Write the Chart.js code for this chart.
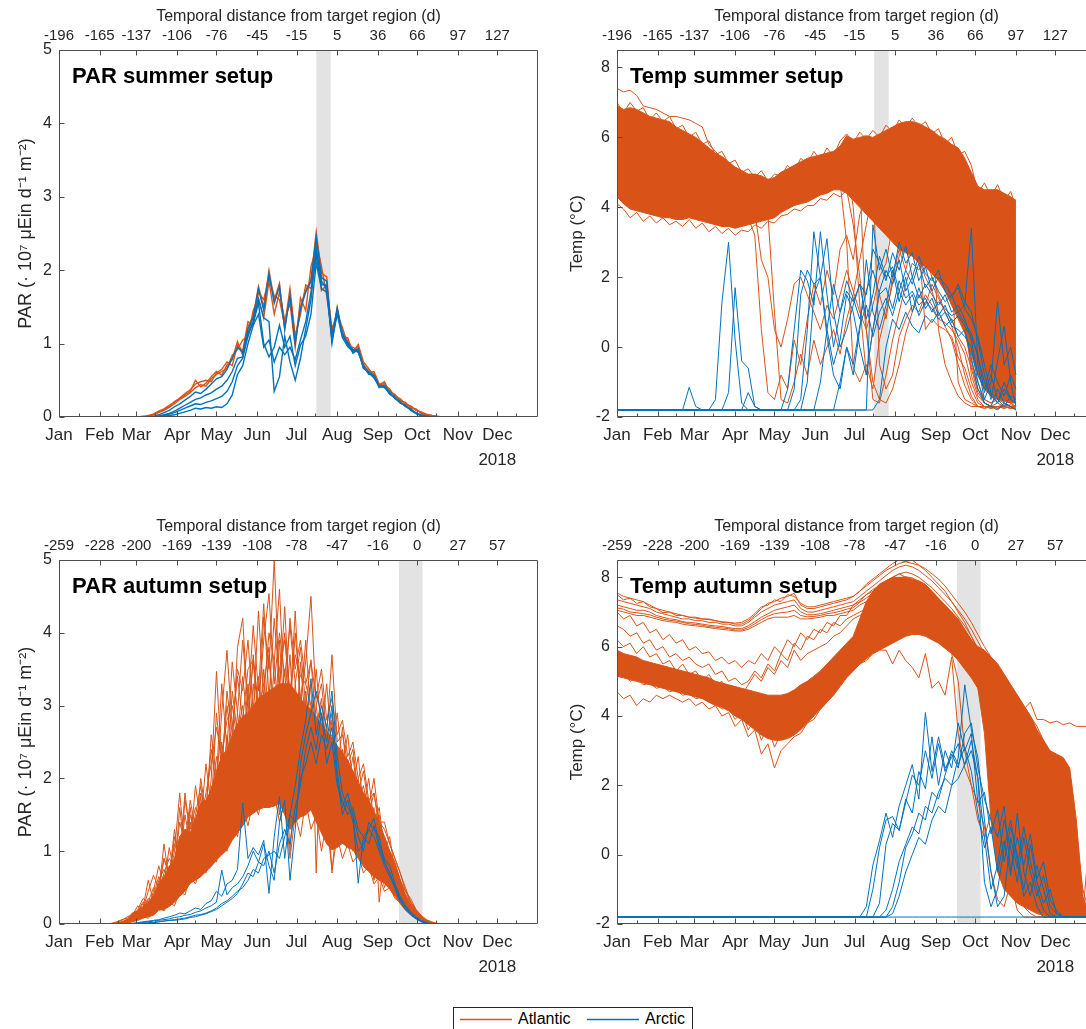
<!DOCTYPE html>
<html>
<head>
<meta charset="utf-8">
<title>PAR and Temp, summer and autumn setups</title>
<script src="https://cdn.jsdelivr.net/npm/chart.js@4.4.1/dist/chart.umd.min.js"></script>
<style>
  html, body { margin:0; padding:0; background:#fff; }
  body { position:relative; width:1086px; height:1029px; overflow:hidden; }
  .panel { position:absolute; }
  .panel canvas { display:block; }
  #legend { position:absolute; left:453px; top:1007px; width:240px; height:27px; box-sizing:border-box;
            border:1px solid #262626; background:#fff; font-family:"Liberation Sans", Arial, Helvetica, sans-serif;
            font-size:16px; color:#000; }
  #legend canvas { position:absolute; top:9px; }
  #legend .tx { position:absolute; top:1px; line-height:20px; white-space:nowrap; }
</style>
</head>
<body>
<div class="panel" style="left:0;top:0"><canvas id="parSummer" width="548" height="480"></canvas></div>
<div class="panel" style="left:560px;top:0"><canvas id="tempSummer" width="548" height="480"></canvas></div>
<div class="panel" style="left:0;top:510px"><canvas id="parAutumn" width="548" height="474"></canvas></div>
<div class="panel" style="left:560px;top:510px"><canvas id="tempAutumn" width="548" height="474"></canvas></div>
<div id="legend"></div>
<script>
// ---------------- categories / tick labels ----------------
const monthNames = ['Jan','Feb','Mar','Apr','May','Jun','Jul','Aug','Sep','Oct','Nov','Dec'];
const yearLabel = '2018';
const monthStarts = [0,31,59,90,120,151,181,212,243,273,304,334];
const monthMids = [15,45,73,104,134,165,195,226,257,287,318,348];
const summerDistLabels = ['-196','-165','-137','-106','-76','-45','-15','5','36','66','97','127'];
const autumnDistLabels = ['-259','-228','-200','-169','-139','-108','-78','-47','-16','0','27','57'];
const summerBand = [196, 207];
const autumnBand = [259, 277];
const parTicks = [0,1,2,3,4,5];
const tempTicks = [-2,0,2,4,6,8];
const panelTitles = ['PAR summer setup','Temp summer setup','PAR autumn setup','Temp autumn setup'];
const topAxisTitle = 'Temporal distance from target region (d)';
const parAxisTitle = 'PAR (· 10⁷ μEin d⁻¹ m⁻²)';
const tempAxisTitle = 'Temp (°C)';
const seriesNames = ['Atlantic','Arctic'];

// ---------------- PAR summer setup (day of year) ----------------
const parSummerDays = [0,56,60,64,68,72,76,80,84,88,92,96,100,104,108,112,116,120,124,128,132,136,140,144,148,152,156,160,164,168,172,176,180,184,188,192,196,200,204,208,212,216,220,224,228,232,236,240,244,248,252,256,260,264,268,272,276,280,284,288,292,296,300,304];
const psAtl1 = [0, 0,0,0.01,0.01,0.04,0.07,0.10,0.14,0.21,0.25, 0.30,0.35,0.50,0.41,0.46,0.55,0.62,0.57,0.71,0.78, 1.03,0.84,1.23,1.37,1.78,1.50,2.00,1.59,1.82,1.19, 1.68,1.05,1.50,1.73,1.87,2.52,1.96,1.91,1.05,1.50, 1.14,1.05,0.91,0.96,0.69,0.64,0.59,0.41,0.46,0.35, 0.30,0.23,0.19,0.14,0.10,0.06,0.03,0.01,0,0, 0,0, 0];
const psAtl2 = [0, 0,0,0,0.01,0.03,0.06,0.09,0.13,0.18,0.24, 0.28,0.33,0.40,0.44,0.42,0.52,0.58,0.62,0.66,0.84, 0.92,1.05,1.10,1.45,1.62,1.35,1.85,1.40,1.70,1.32, 1.55,0.95,1.62,1.45,2.05,2.30,1.72,1.80,1.20,1.40, 1.22,0.98,0.95,0.90,0.72,0.60,0.62,0.45,0.43,0.38, 0.28,0.25,0.17,0.15,0.09,0.07,0.04,0.02,0.01,0, 0,0, 0];
const psAtl3 = [0, 0,0,0,0.02,0.04,0.08,0.11,0.16,0.20,0.26, 0.32,0.37,0.45,0.48,0.50,0.48,0.60,0.65,0.75,0.70, 0.98,0.90,1.30,1.25,1.70,1.60,1.90,1.65,1.60,1.25, 1.75,1.10,1.40,1.80,1.75,2.40,2.05,1.65,1.15,1.45, 1.10,1.08,0.88,0.99,0.75,0.66,0.55,0.44,0.48,0.33, 0.31,0.22,0.20,0.12,0.11,0.05,0.03,0.02,0,0, 0,0, 0];
const psArc1 = [0, 0,0,0,0,0.01,0.03,0.06,0.09,0.14,0.18, 0.23,0.28,0.34,0.32,0.38,0.45,0.52,0.55,0.65,0.80, 0.95,0.88,1.20,1.35,1.75,1.45,1.95,1.55,1.78,1.20, 1.65,1.00,1.48,1.70,1.85,2.45,1.90,1.85,1.08,1.48, 1.12,1.00,0.90,0.93,0.66,0.62,0.55,0.40,0.43,0.32, 0.27,0.20,0.15,0.10,0.06,0.03,0.01,0,0,0, 0,0, 0];
const psArc2 = [0, 0,0,0,0,0,0.01,0.03,0.05,0.08,0.12, 0.16,0.20,0.24,0.26,0.30,0.33,0.38,0.42,0.50,0.62, 0.80,0.82,1.10,1.30,1.60,1.35,1.30,0.35,0.55,1.10, 0.75,0.50,0.80,1.20,1.60,2.30,1.85,1.75,1.10,1.42, 1.15,0.98,0.92,0.88,0.70,0.58,0.57,0.42,0.40,0.34, 0.25,0.21,0.14,0.11,0.05,0.02,0.01,0,0,0, 0,0, 0];
const psArc3 = [0, 0,0,0,0,0,0,0.01,0.02,0.03,0.05, 0.07,0.09,0.12,0.11,0.13,0.12,0.14,0.13,0.18,0.30, 0.58,0.70,1.00,1.25,1.40,0.95,1.05,0.75,0.95,0.85, 0.95,0.78,1.05,1.30,1.70,2.20,1.80,1.80,1.00,1.45, 1.10,1.02,0.87,0.92,0.68,0.61,0.53,0.43,0.41,0.31, 0.26,0.19,0.16,0.09,0.05,0.02,0,0,0,0, 0,0, 0];
const psArc4 = [0, 0,0,0,0,0,0.01,0.02,0.04,0.06,0.09, 0.12,0.15,0.18,0.17,0.20,0.22,0.25,0.28,0.35,0.48, 0.70,0.80,1.15,1.28,1.55,1.00,0.82,0.95,1.25,0.95, 1.10,0.70,0.98,1.10,1.40,2.10,1.75,1.70,1.05,1.40, 1.08,0.96,0.89,0.90,0.67,0.60,0.56,0.41,0.42,0.33, 0.26,0.20,0.15,0.10,0.05,0.02,0,0,0,0, 0,0, 0];

// ---------------- Temp summer setup ----------------
const tempSummerDays = [0,5,10,15,20,25,30,35,40,45, 50,55,60,65,70,75,80,85,90,95, 100,105,110,115,120,125,130,135,140,145, 150,155,160,165,170,175,180,185,190,195, 200,205,210,215,220,225,230,235,240,245, 250,255,260,265,270,275,280,285,290,295, 300,304];
const tsAtlUpper = [6.9,6.8,6.85,6.8,6.7,6.6,6.55,6.5,6.45,6.3, 6.2,6.1,6.0,5.85,5.7,5.55,5.45,5.3,5.15,5.05, 4.95,4.95,4.9,4.8,4.85,5.0,5.1,5.2,5.3,5.4, 5.45,5.5,5.55,5.6,5.75,6.05,5.95,6.0,6.05,6.0, 6.1,6.2,6.3,6.4,6.45,6.45,6.4,6.3,6.2,6.05, 5.95,5.8,5.7,5.4,5.0,4.6,4.5,4.5,4.5,4.4, 4.3,4.2];
const tsAtlLower = [4.3,4.1,3.95,3.9,3.85,3.8,3.75,3.7,3.7,3.65, 3.65,3.7,3.65,3.6,3.55,3.5,3.45,3.45,3.4,3.45, 3.5,3.55,3.6,3.65,3.7,3.85,3.95,4.05,4.1,4.15, 4.25,4.35,4.4,4.5,4.5,4.4,4.2,4.0,3.8,3.6, 3.4,3.2,3.0,2.8,2.7,2.6,2.4,2.3,2.1,1.9, 1.6,1.2,0.8,0.4,-0.2,-0.8,-1.2,-1.4,-1.5,-1.55, -1.6,-1.6];
const tsAtl1 = [7.4,7.3,7.35,7.2,6.9,6.85,6.8,6.7,6.6,6.6, 6.55,6.5,6.4,6.3,5.8,5.6,5.4,5.25,5.1,5.0, 4.9,4.85,4.8,4.75,4.8,4.95,5.05,5.15,5.25,5.35, 5.4,5.45,5.5,5.55,5.7,6.0,5.9,5.95,6.0,5.95, 6.05,6.15,6.25,6.35,6.4,6.4,6.35,6.25,6.15,6.0, 5.9,5.75,5.6,5.3,4.9,4.5,4.4,4.4,4.5,4.3, 4.2,4.1];
const tsAtl2 = [4.6,4.5,4.4,4.3,4.2,4.15,4.1,4.05,4.0,3.95, 3.9,3.9,3.85,3.8,3.75,3.7,3.7,3.65,3.6,3.65, 3.7,3.2,0.5,-1.3,-1.5,-0.8,-1.2,0.2,-0.5,0.8, 1.8,1.2,2.2,1.5,2.8,3.2,2.5,3.8,4.2,4.6, 5.0,5.3,5.5,5.6,5.7,5.6,5.5,5.3,5.0,4.6, 4.0,3.0,1.5,0.5,-0.5,-1.2,-1.5,-1.6,-1.5,-1.6, -1.7,-1.7];
const tsAtl3 = [5.2,5.0,5.1,4.9,4.8,4.7,4.75,4.6,4.55,4.5, 4.4,4.35,4.3,4.2,4.15,4.1,4.0,3.95,3.9,3.9, 3.9,3.9,2.5,2.0,0.5,0.0,0.8,1.8,2.0,1.5, 1.0,0.5,1.2,0.8,1.5,2.2,1.6,1.0,0.5,1.2, 2.0,2.4,3.5,4.5,5.2,5.5,5.6,5.5,5.4,5.2, 5.0,4.7,4.3,1.0,-0.8,-1.4,-1.6,-1.7,-1.6,-1.7, -1.65,-1.7];
const tsAtl4 = [5.6,5.5,5.45,5.4,5.3,5.2,5.15,5.1,5.0,4.95, 4.9,4.85,4.8,4.7,4.6,4.5,4.4,4.3,4.2,4.15, 4.1,4.1,4.05,4.0,4.05,4.15,4.25,4.35,4.45,4.55, 4.6,4.7,4.75,4.8,4.7,3.0,-0.6,-1.0,-0.5,-1.2, 0.2,1.0,1.8,2.6,3.2,3.0,3.5,3.0,2.8,2.2, 1.8,1.2,0.9,0.5,-0.4,-1.0,-1.5,-1.6,-1.4,-1.5, -1.6,-1.7];
const tsAtl5 = [6.2,6.1,6.0,5.9,5.8,5.75,5.7,5.65,5.6,5.5, 5.4,5.3,5.2,5.1,5.0,4.9,4.8,4.7,4.6,4.5, 4.4,4.35,4.3,4.3,4.35,4.45,4.55,4.65,4.75,4.85, 4.95,5.0,5.05,5.1,5.2,5.4,5.3,4.8,0.5,-1.5, -1.6,-0.8,0.2,1.0,1.8,2.4,2.2,2.6,2.0,1.5, 1.0,0.8,0.3,0.0,-0.6,-1.3,-1.6,-1.7,-1.7,-1.65, -1.7,-1.7];
const tsAtl6 = [5.0,4.9,4.8,4.7,4.6,4.5,4.45,4.4,4.3,4.25, 4.2,4.15,4.1,4.05,4.0,3.95,3.9,3.85,3.8,3.8, 3.85,3.9,3.95,4.0,4.1,4.25,4.4,4.5,4.6,4.7, 4.8,4.9,5.0,5.1,5.25,5.5,5.4,5.45,5.5,5.0, -0.5,-1.2,-0.8,0.3,0.8,1.2,1.0,1.5,1.2,0.8, 0.7,0.5,0.2,-0.2,-1.0,-1.5,-1.7,-1.7,-1.75,-1.7, -1.75,-1.7];
const tsAtl7 = [5.8,5.7,5.75,5.6,5.5,5.45,5.4,5.3,5.25,5.2, 5.1,5.0,4.95,4.9,4.8,4.7,4.65,4.55,4.5,4.4, 4.35,4.3,4.3,4.25,4.3,4.45,4.55,4.7,4.8,4.9, 5.0,5.1,5.15,5.2,5.35,5.7,5.6,5.65,5.7,5.75, 5.85,5.95,6.05,6.15,6.2,6.2,3.0,0.5,0.8,0.6, 0.5,0.3,-0.3,-0.6,-1.2,-1.6,-1.7,-1.75,-1.7,-1.75, -1.7,-1.75];
const tsAtl8 = [4.9,4.7,4.6,4.5,4.4,4.3,4.25,4.2,4.1,4.05, 4.0,3.95,3.9,3.85,3.8,3.75,3.7,3.7,3.65,3.7, 3.75,3.8,3.8,3.8,1.0,-1.5,-1.6,-1.0,-0.2,-0.8, 0.2,-0.5,0.0,0.5,-0.2,0.8,1.5,2.5,3.5,4.5, 5.2,5.5,5.7,5.8,5.9,5.85,5.8,5.7,5.6,5.4, 5.2,4.9,4.5,4.4,4.6,4.3,4.5,4.2,4.4,4.1, 4.0,3.9];
const tsAtl9 = [5.4,5.3,5.3,5.2,5.1,5.0,4.95,4.9,4.85,4.8, 4.7,4.6,4.5,4.4,4.3,4.2,4.1,4.0,3.95,3.9, 3.95,4.0,4.05,4.1,4.2,4.3,4.4,4.5,4.6,4.7, 4.8,4.85,4.9,5.0,5.1,5.3,4.0,1.2,-0.8,0.5, 1.5,0.8,2.0,2.8,2.2,3.0,2.5,2.0,1.6,1.0, 0.6,0.2,-0.5,-1.1,-1.5,-1.7,-1.7,-1.75,-1.7,-1.7, -1.75,-1.7];
const tsAtl10 = [6.6,6.5,6.4,6.3,6.2,6.1,6.0,5.9,5.85,5.8, 5.7,5.6,5.5,5.4,5.3,5.2,5.1,5.0,4.9,4.8, 4.75,4.7,4.65,4.6,4.65,4.75,4.85,4.95,5.05,5.15, 5.25,5.3,5.35,5.4,5.5,5.8,5.75,5.8,5.85,5.8, 5.95,6.05,6.15,6.25,6.3,6.3,6.25,6.15,6.05,5.9, 5.8,2.0,-1.0,-1.5,-1.6,-1.7,-1.7,-1.75,-1.7,-1.75, -1.7,-1.75];
const tsAtl11 = [7.0,6.7,7.0,6.75,6.85,6.5,6.7,6.45,6.6,6.25, 6.35,6.0,6.15,5.8,5.9,5.5,5.6,5.25,5.35,5.0, 5.1,4.85,5.05,4.75,4.95,4.9,5.2,5.0,5.4,5.25, 5.6,5.35,5.7,5.45,5.9,6.1,5.85,6.15,5.95,6.2, 6.0,6.35,6.15,6.5,6.3,6.55,6.3,6.45,6.1,6.25, 5.8,6.0,5.5,5.6,5.2,4.4,4.7,4.3,4.65,4.2, 4.45,4.0];
const tsAtl12 = [4.1,3.95,3.7,3.85,3.6,3.75,3.55,3.7,3.5,3.6, 3.45,3.65,3.4,3.55,3.3,3.45,3.25,3.4,3.2,3.35, 3.3,3.5,3.4,3.6,3.55,3.75,3.8,3.95,3.9,4.05, 4.05,4.25,4.2,4.4,4.3,4.5,3.5,2.0,0.5,-1.0, -1.5,-1.6,-1.2,-0.5,0.4,1.0,1.5,1.2,1.8,1.4, 1.0,0.6,0.0,-0.8,-1.4,-1.7,-1.75,-1.7,-1.75,-1.7, -1.75,-1.75];
const tsAtl13 = [5.9,5.8,5.7,5.6,5.5,5.45,5.4,5.35,5.3,5.2, 5.1,5.0,4.9,4.8,4.7,4.6,4.5,4.4,4.3,4.25, 4.2,4.15,4.1,4.1,4.15,4.25,4.35,4.45,4.6,4.7, 4.8,4.9,4.95,5.05,5.15,5.45,5.4,5.5,5.6,5.65, 5.75,5.85,5.95,6.05,6.1,6.15,6.1,6.0,3.5,0.5, -0.5,-1.0,-1.4,-1.6,-1.7,-1.7,-1.75,-1.7,-1.75,-1.7, -1.75,-1.7];
const tsArc1 = [-1.8,-1.8,-1.8,-1.8,-1.8,-1.8,-1.8,-1.8,-1.8,-1.8, -1.8,-1.8,-1.8,-1.8,-1.8,-1.5,1.3,3.0,0.2,-1.6, -1.8,-1.8,-1.8,-1.8,-1.8,-1.8,-1.8,-1.2,1.5,2.2, 1.8,2.0,0.5,-0.5,0.2,1.5,1.0,0.0,-0.8,0.5, 1.6,2.2,1.8,2.5,1.6,2.0,1.4,1.8,1.5,1.2, 1.5,1.0,1.2,0.8,0.2,-0.8,-1.2,-0.5,-1.0,-1.4, -0.8,-1.2];
const tsArc2 = [-1.8,-1.8,-1.8,-1.8,-1.8,-1.8,-1.8,-1.8,-1.8,-1.8, -1.8,-1.8,-1.8,-1.8,-1.8,-1.8,-1.8,-1.3,1.7,-0.4, -0.6,-1.7,-1.8,-1.8,-1.8,-1.8,-1.8,-1.8,-1.5,0.5, 3.3,2.0,3.1,1.0,0.0,0.5,1.2,1.8,0.8,1.5, 2.6,2.0,2.3,1.6,2.2,1.8,2.4,1.7,2.0,1.6, 1.3,1.5,1.0,1.2,3.4,-0.5,-1.5,-1.0,1.3,-0.5, 0.0,-0.8];
const tsArc3 = [-1.8,-1.8,-1.8,-1.8,-1.8,-1.8,-1.8,-1.8,-1.8,-1.8, -1.8,-1.8,-1.8,-1.8,-1.8,-1.8,-1.8,-1.8,-1.8,-1.8, -1.8,-1.8,-1.8,-1.8,-1.8,-1.8,-1.2,0.5,2.2,1.9, 1.2,3.3,1.5,0.0,1.0,1.6,1.3,1.8,1.5,2.8, 2.4,1.9,2.7,2.2,2.9,2.0,2.6,2.1,1.9,2.2, 1.6,1.4,1.8,1.3,1.0,0.2,-0.8,-1.5,-0.4,0.6, -1.0,-1.7];
const tsArc4 = [-1.8,-1.8,-1.8,-1.8,-1.8,-1.8,-1.8,-1.8,-1.8,-1.8, -1.8,-1.8,-1.8,-1.8,-1.8,-1.8,-1.8,-1.8,-1.8,-1.8, -1.8,-1.8,-1.8,-1.8,-1.8,-1.8,-1.8,-1.8,-1.8,-1.0, 1.5,2.0,0.3,-0.8,-1.2,0.0,-0.5,0.6,1.2,0.3, 1.0,1.4,0.9,1.6,1.2,1.5,0.9,1.3,1.1,0.8, 1.0,0.6,0.5,0.3,0.0,-1.0,-1.6,-1.7,-1.2,-1.6, -1.7,-1.8];
const tsArc5 = [-1.8,-1.8,-1.8,-1.8,-1.8,-1.8,-1.8,-1.8,-1.8,-1.8, -1.8,-1.8,-1.8,-1.8,-1.8,-1.8,-1.8,-1.8,-1.8,-1.8, -1.8,-1.8,-1.8,-1.8,-1.8,-1.8,-1.8,-1.8,-1.8,-1.8, -1.8,-1.8,-1.8,-1.8,-1.8,-1.8,-1.8,-1.8,-1.8,3.5, 2.2,2.8,2.0,3.0,2.4,2.7,1.9,2.3,1.6,2.0, 1.8,1.5,1.7,1.1,0.8,0.3,-0.5,-1.3,-1.6,-1.0, -1.5,-1.6];
const tsArc6 = [-1.8,-1.8,-1.8,-1.8,-1.8,-1.8,-1.8,-1.8,-1.8,-1.8, -1.8,-1.8,-1.8,-1.8,-1.8,-1.8,-1.8,-1.8,-1.8,-1.8, -1.8,-1.8,-1.8,-1.8,-1.8,-1.8,-1.8,-1.8,-1.8,-1.8, -1.8,-1.8,-1.8,-1.8,-1.8,-1.8,-1.8,-1.8,-1.8,-1.8, -1.5,0.0,0.8,0.5,1.0,0.6,0.4,0.9,0.7,1.0, 0.6,0.8,0.3,0.5,-0.3,-1.2,-1.6,-1.7,-1.8,-1.6, -1.7,-1.8];
const tsArc7 = [-1.8,-1.8,-1.8,-1.8,-1.8,-1.8,-1.8,-1.8,-1.8,-1.8, -1.8,-1.15,-1.7,-1.8,-1.8,-1.8,-1.8,-1.8,-1.8,-1.8, -1.8,-1.8,-1.8,-1.8,-1.8,-1.8,-1.8,-1.8,-1.8,-1.8, -1.8,-1.0,0.5,1.8,1.0,1.9,1.4,0.8,1.6,2.2, 1.5,1.7,1.1,1.9,1.4,1.6,1.2,1.4,1.0,1.3, 1.1,0.9,1.0,0.7,0.4,-0.3,-1.0,-1.4,-1.6,-1.2, -1.5,-1.6];
const tsArc8 = [-1.8,-1.8,-1.8,-1.8,-1.8,-1.8,-1.8,-1.8,-1.8,-1.8, -1.8,-1.8,-1.8,-1.8,-1.8,-1.8,-1.8,-1.8,-1.8,-1.8, -1.3,-1.7,-1.8,-1.8,-1.8,-1.8,-1.8,-1.8,-1.8,-1.8, -1.8,-1.8,-1.8,-1.8,-1.0,0.0,-0.8,0.5,2.5,1.0, 0.5,1.2,2.2,1.3,2.0,1.0,1.7,1.1,1.4,0.9, 1.2,0.7,0.9,0.6,0.3,-0.2,-1.3,-0.8,-1.5,-1.7, -1.4,-1.5];

// ---------------- PAR autumn setup ----------------
const parAutumnDays = [0, 36,40,44,48,52,56,60,64,68,72, 76,80,84,88,92,96,100,104,108,112, 116,120,124,128,132,136,140,144,148,152, 156,160,164,168,172,176,180,184,188,192, 196,200,204,208,212,216,220,224,228,232, 236,240,244,248,252,256,260,264,268,272, 276,280,284,288,292,296,300, 364];
const paAtlUpper = [0, 0,0,0.01,0.03,0.06,0.15,0.18,0.24,0.3,0.38, 0.56,0.65,0.79,0.9,1.2,1.3,1.25,1.45,1.66,1.7, 1.84,2.1,2.3,2.4,2.6,2.75,2.85,2.9,3.0,3.1, 3.15,3.2,3.25,3.3,3.3,3.3,3.2,3.1,3.0,2.95, 2.85,2.75,2.65,2.55,2.45,2.35,2.25,2.1,1.95,1.8, 1.7,1.55,1.4,1.2,1.0,0.83,0.6,0.38,0.26,0.17, 0.1,0.05,0.02,0,0,0,0, 0];
const paAtlLower = [0, 0,0,0,0,0.01,0.03,0.05,0.08,0.1,0.12, 0.19,0.2,0.24,0.3,0.38,0.45,0.56,0.6,0.65,0.72, 0.79,0.88,0.95,1.02,1.15,1.25,1.35,1.47,1.52,1.57, 1.6,1.6,1.62,1.66,1.5,1.3,1.4,1.47,1.5,1.57, 1.4,1.25,1.1,1.02,1.05,1.11,1.05,1.02,0.9,0.79, 0.72,0.65,0.6,0.56,0.48,0.38,0.28,0.19,0.13,0.08, 0.04,0.01,0,0,0,0,0, 0];
const paAtl1 = [0, 0,0,0.02,0.05,0.1,0.12,0.25,0.2,0.45,0.67, 0.5,0.9,0.7,1.1,0.9,1.8,1.2,1.5,1.9,1.4, 2.0,3.47,2.2,3.0,2.4,3.8,4.2,2.9,3.6,2.8, 4.22,3.5,5.0,3.2,4.36,2.9,4.0,3.1,3.6,4.5, 3.0,3.3,2.6,3.7,2.5,2.6,2.2,2.4,1.8,2.1, 1.6,2.0,1.4,1.3,1.1,0.9,0.7,0.45,0.35,0.2, 0.12,0.06,0.03,0.01,0,0,0, 0];
const paAtl2 = [0, 0,0,0,0.02,0.05,0.08,0.1,0.15,0.12,0.25, 0.3,0.22,0.45,0.35,0.6,0.5,0.8,0.7,1.0,0.85, 1.3,1.0,1.6,1.2,1.9,1.4,2.2,1.6,2.0,1.7, 2.6,1.8,2.2,1.5,2.4,1.0,2.0,1.5,2.3,1.7, 2.0,1.3,1.9,0.7,1.5,1.1,1.4,1.0,1.2,0.8, 1.1,0.6,0.9,0.5,0.7,0.4,0.45,0.25,0.2,0.1, 0.06,0.02,0,0,0,0,0, 0];
const paAtl3 = [0, 0,0.01,0.03,0.06,0.08,0.15,0.18,0.3,0.28,0.4, 0.65,0.5,0.8,0.6,1.2,0.9,1.4,1.1,1.6,1.3, 1.7,2.3,1.8,2.6,2.0,2.9,2.3,3.3,2.5,3.4, 2.7,3.7,2.6,3.9,2.8,3.7,2.4,3.6,2.7,3.3, 0.7,2.9,2.2,2.8,1.8,2.4,1.6,2.0,1.4,1.8, 1.0,1.6,0.3,1.0,0.6,0.8,0.5,0.35,0.25,0.15, 0.1,0.04,0.02,0,0,0,0, 0];
const paAtl4 = [0, 0,0,0.01,0.03,0.07,0.1,0.2,0.35,0.3,0.5, 0.4,0.7,0.9,0.8,1.4,1.1,1.7,1.3,1.8,1.6, 2.4,1.9,2.9,3.76,2.7,3.4,2.8,3.5,3.63,3.0, 3.9,4.54,3.3,4.0,3.4,4.1,3.3,3.8,3.0,3.63, 2.7,3.1,2.4,2.9,2.1,2.7,1.9,2.3,1.7,1.9, 1.5,1.8,1.3,1.2,1.0,0.85,0.6,0.4,0.3,0.18, 0.1,0.05,0.02,0,0,0,0, 0];
const paAtl5 = [0, 0,0,0.01,0.02,0.04,0.06,0.12,0.22,0.6,0.3, 0.35,0.6,0.5,0.9,0.7,1.3,0.9,1.2,1.1,1.5, 1.2,1.8,1.4,2.1,1.7,2.4,1.9,2.8,2.2,3.0, 2.3,2.9,2.0,3.1,2.2,2.6,1.8,2.9,2.4,2.8, 2.1,2.6,1.8,2.2,1.5,2.0,1.3,1.7,1.1,1.4, 1.2,1.3,1.0,0.9,0.8,0.6,0.55,0.3,0.22,0.12, 0.07,0.03,0.01,0,0,0,0, 0];
const paAtl6 = [0, 0,0,0,0.01,0.03,0.05,0.08,0.12,0.18,0.2, 0.45,1.1,0.6,1.0,1.8,1.0,1.6,1.0,1.75,1.2, 1.9,1.5,2.5,2.0,3.2,2.6,3.0,2.4,3.3,2.6, 3.5,2.4,3.6,2.7,3.5,2.2,3.3,2.5,3.2,2.4, 3.0,2.3,2.7,1.9,2.3,1.8,2.1,1.5,2.0,1.3, 1.7,1.1,1.5,0.8,0.9,0.7,0.5,0.4,0.28,0.16, 0.09,0.04,0.01,0,0,0,0, 0];
const paAtl7 = [0, 0,0,0,0.02,0.04,0.09,0.16,0.28,0.22,0.45, 0.8,0.55,1.05,0.7,1.6,0.95,1.5,1.2,2.0,1.5, 2.6,2.0,3.3,2.4,3.6,2.9,3.9,3.0,4.1,3.2, 4.4,3.1,4.2,3.3,4.0,3.0,4.3,2.9,3.9,2.8, 3.5,2.6,3.3,2.4,2.9,2.2,2.6,1.9,2.3,1.6, 2.0,1.4,1.6,1.0,1.2,0.7,0.55,0.35,0.25,0.15, 0.08,0.04,0.01,0,0,0,0, 0];
const paAtl8 = [0, 0,0,0,0.01,0.02,0.05,0.07,0.1,0.08,0.15, 0.22,0.18,0.3,0.25,0.45,0.4,0.65,0.55,0.8,0.7, 0.95,0.85,1.2,1.0,1.4,1.2,1.6,1.35,1.7,1.5, 1.9,1.6,1.8,1.4,1.7,0.9,1.5,1.2,1.7,1.3, 1.5,1.0,1.4,0.75,1.2,0.9,1.1,0.85,0.95,0.7, 0.8,0.55,0.65,0.45,0.5,0.35,0.3,0.2,0.15,0.08, 0.05,0.02,0,0,0,0,0, 0];
const paAtl9 = [0, 0,0,0.01,0.02,0.05,0.1,0.14,0.2,0.35,0.3, 0.6,0.75,0.6,1.2,0.85,1.5,1.1,1.9,1.4,2.2, 1.6,2.9,2.1,3.2,2.6,3.5,3.2,3.9,2.9,4.3, 3.1,4.0,3.6,4.6,3.0,4.2,3.5,3.9,3.3,3.6, 3.1,3.5,2.8,3.1,2.6,2.8,2.3,2.5,2.0,2.2, 1.7,1.8,1.4,1.4,1.1,0.9,0.7,0.5,0.3,0.2, 0.1,0.05,0.02,0,0,0,0, 0];
const paAtl10 = [0, 0,0,0,0.01,0.03,0.06,0.1,0.18,0.25,0.35, 0.45,0.9,0.65,1.3,0.8,1.7,1.3,1.6,1.4,1.8, 2.2,2.7,2.3,2.8,3.0,2.5,3.4,2.7,3.7,2.9, 3.3,3.8,2.8,3.5,3.9,3.2,3.7,3.4,3.3,3.0, 2.8,2.9,2.5,2.6,2.2,2.4,2.0,2.1,1.8,1.7, 1.5,1.5,1.2,1.1,0.95,0.8,0.6,0.45,0.3,0.18, 0.1,0.05,0.02,0,0,0,0, 0];
const paArc1 = [0, 0,0,0,0,0,0.01,0.02,0.03,0.04,0.05, 0.06,0.08,0.1,0.12,0.15,0.14,0.18,0.22,0.2,0.28, 0.32,0.45,0.38,0.55,0.6,0.75,1.66,0.9,1.05,0.95, 1.15,0.42,1.2,1.75,0.9,1.5,1.9,2.4,2.8,3.37, 2.6,3.0,2.7,3.2,2.3,1.8,1.6,1.5,0.56,1.2, 1.3,1.45,1.1,0.9,0.8,0.55,0.38,0.25,0.17,0.1, 0.05,0.02,0,0,0,0,0, 0];
const paArc2 = [0, 0,0,0,0,0,0,0.01,0.02,0.03,0.04, 0.05,0.06,0.07,0.09,0.1,0.12,0.13,0.16,0.18,0.22, 0.25,0.3,0.74,0.4,0.5,0.55,0.65,0.8,1.0,0.85, 1.1,0.8,0.6,1.4,1.7,0.6,1.3,2.2,2.6,2.9, 3.2,2.85,2.5,3.0,2.1,1.6,1.8,1.5,1.2,1.0, 1.4,1.3,1.2,0.85,0.7,0.5,0.33,0.24,0.15,0.08, 0.04,0.01,0,0,0,0,0, 0];
const paArc3 = [0, 0,0,0,0,0,0,0,0.01,0.02,0.02, 0.03,0.04,0.05,0.06,0.07,0.08,0.1,0.12,0.13,0.15, 0.18,0.22,0.28,0.32,0.38,0.45,0.5,0.6,0.75,0.7, 0.9,0.95,1.0,0.9,1.2,1.5,1.4,2.0,2.2,2.5, 2.2,2.6,2.4,2.7,2.0,1.5,1.7,1.4,1.0,1.1, 1.3,1.2,1.0,0.8,0.65,0.5,0.3,0.2,0.12,0.07, 0.03,0.01,0,0,0,0,0, 0];
const paArc4 = [0, 0,0,0,0,0,0,0,0,0.01,0.02, 0.03,0.04,0.05,0.05,0.06,0.07,0.09,0.1,0.12,0.14, 0.17,0.2,0.25,0.3,0.35,0.42,0.55,0.7,0.65,0.85, 0.8,1.0,0.7,1.1,1.3,1.1,1.6,1.9,2.4,2.7, 2.4,2.9,2.2,2.5,1.9,1.7,1.5,1.6,1.3,1.2, 1.1,1.35,1.05,0.85,0.7,0.52,0.35,0.22,0.14,0.08, 0.04,0.01,0,0,0,0,0, 0];

// ---------------- Temp autumn setup ----------------
const tempAutumnDays = [0,5,10,15,20,25,30,35,40,45, 50,55,60,65,70,75,80,85,90,95, 100,105,110,115,120,125,130,135,140,145, 150,155,160,165,170,175,180,185,190,195, 200,205,210,215,220,225,230,235,240,245, 250,255,260,265,270,275,280,285,290,295, 300,305,310,315,320,325,330,335,340,345, 350,355,360,364];
const taAtlMainUpper = [5.9,5.8,5.75,5.7,5.6,5.55,5.5,5.45,5.4,5.35, 5.3,5.25,5.2,5.15,5.1,5.0,4.95,4.9,4.85,4.8, 4.75,4.7,4.65,4.6,4.6,4.6,4.65,4.75,4.9,5.0, 5.15,5.3,5.5,5.7,5.9,6.1,6.3,6.8,7.3,7.6, 7.8,7.9,8.0,8.0,8.0,7.95,7.9,7.8,7.6,7.4, 7.2,7.0,6.8,6.5,6.2,6.0,5.9,5.7,5.5,5.2, 4.9,4.6,4.3,4.0,3.6,3.3,3.0,2.9,2.8,2.5, 1.0,-1.2,-1.75,-1.75];
const taAtlMainLower = [5.15,5.1,5.05,5.0,4.95,4.9,4.85,4.8,4.75,4.7, 4.65,4.6,4.55,4.5,4.4,4.3,4.25,4.15,4.0,3.9, 3.75,3.6,3.45,3.35,3.3,3.3,3.35,3.45,3.6,3.8, 4.0,4.2,4.4,4.6,4.85,5.1,5.3,5.5,5.65,5.8, 5.9,6.0,6.1,6.2,6.3,6.35,6.35,6.3,6.2,6.1, 5.95,5.8,5.6,5.35,5.1,4.8,3.5,1.0,-0.5,-1.0, -1.2,-1.4,-1.5,-1.6,-1.7,-1.75,-1.8,-1.8,-1.8,-1.8, -1.8,-1.8,-1.8,-1.8];
const taAtl1 = [7.0,6.8,6.9,6.6,6.7,6.4,6.5,6.2,6.35,6.1, 6.2,5.9,6.0,5.8,5.85,5.6,5.7,5.5,5.6,5.4, 5.6,5.5,5.8,5.6,6.0,5.8,6.2,6.0,6.4,6.2, 6.5,6.4,6.7,6.6,6.9,6.9,7.2,7.3,7.5,7.6, 7.8,7.9,8.0,8.1,8.0,7.9,7.8,7.6,7.5,7.3, 7.1,6.9,6.6,6.3,6.0,5.7,5.3,4.8,4.2,3.5, 2.8,2.0,1.5,0.8,0.0,-0.8,-1.5,-1.7,-1.8,-1.8, -1.8,-1.8,-1.8,-1.8];
const taAtl2 = [6.6,6.5,6.3,6.4,6.1,6.2,5.9,6.0,5.7,5.8, 5.6,5.7,5.5,5.4,5.5,5.2,5.3,5.0,5.1,4.9, 5.0,5.3,5.1,5.5,5.3,5.8,5.6,6.1,5.9,6.3, 6.2,6.5,6.4,6.7,6.6,6.8,6.9,7.0,7.1,7.3, 7.4,7.5,7.6,7.7,7.7,7.6,7.5,7.4,7.2,7.0, 6.8,6.6,6.4,6.1,5.8,5.4,5.0,4.3,3.6,3.8, 3.0,2.6,2.2,1.5,1.0,0.3,-0.5,-1.2,-1.6,-1.8, -1.8,-1.8,-1.8,-1.8];
const taAtl3 = [6.2,6.0,6.1,5.8,6.0,5.7,5.8,5.5,5.6,5.3, 5.5,5.2,5.3,5.0,5.2,4.9,5.0,4.7,4.8,4.6, 4.9,5.2,5.0,5.4,5.2,5.6,5.4,5.9,5.6,5.8, 5.9,6.0,6.1,6.3,6.4,6.6,6.8,6.9,7.0,7.2, 7.3,7.4,7.5,7.5,7.4,7.3,7.2,7.1,7.0,6.9, 6.7,6.5,6.3,6.0,5.6,5.0,4.0,3.0,2.0,1.5, 0.8,0.3,-0.5,-1.2,-1.6,-1.8,-1.8,-1.8,-1.8,-1.8, -1.8,-1.8,-1.8,-1.8];
const taAtl4 = [4.7,4.5,4.6,4.3,4.5,4.4,4.6,4.5,4.6,4.5, 4.4,4.5,4.3,4.4,4.2,4.3,4.0,4.1,3.7,3.9, 3.4,3.6,2.9,3.2,2.5,3.0,3.2,3.4,3.5,3.8, 3.9,4.2,4.4,4.7,4.9,5.2,5.3,5.5,5.6,5.8, 5.9,5.9,5.5,5.9,5.6,5.4,5.1,5.8,4.8,5.0, 4.6,5.7,3.5,2.5,2.0,1.0,0.5,1.2,0.3,-0.5, 0.2,-1.0,-1.5,-1.7,-1.8,-1.8,-1.8,-1.8,-1.8,-1.8, -1.8,-1.8,-1.8,-1.8];
const taAtl5 = [5.5,5.4,5.45,5.3,5.3,5.2,5.2,5.1,5.1,5.0, 5.0,4.9,4.9,4.8,4.75,4.7,4.6,4.5,4.4,4.3, 4.1,4.0,3.9,3.8,3.7,3.8,3.9,4.0,4.2,4.4, 4.6,4.8,5.0,5.2,5.4,5.6,5.8,6.0,6.2,6.3, 6.4,6.5,6.6,6.7,6.75,6.75,6.7,6.65,6.55,6.45, 6.3,6.15,6.0,5.8,5.6,5.5,5.5,5.3,5.0,4.8, 4.5,4.6,4.2,4.4,3.9,3.9,3.8,3.85,3.75,3.8, 3.7,3.7,3.7,3.75];
const taAtl6 = [5.3,5.2,5.0,5.1,4.9,4.95,4.8,4.85,4.7,4.75, 4.6,4.65,4.5,4.55,4.4,4.35,4.2,4.25,3.9,4.1, 3.6,3.9,3.3,3.7,3.1,3.5,3.6,3.7,3.9,4.1, 4.3,4.5,4.7,4.9,5.1,5.3,5.5,5.7,5.9,6.0, 6.1,6.2,6.3,6.4,6.5,6.5,6.45,6.4,6.3,6.2, 6.1,5.9,5.7,5.5,5.2,4.8,4.2,3.5,3.0,2.6, 2.2,1.8,1.4,2.0,1.2,0.5,-0.2,-0.8,-1.5,-1.8, -1.8,-1.7,0.5,1.5];
const taAtl7 = [7.55,7.45,7.4,7.35,7.3,7.2,7.1,7.05,7.0,6.95, 6.9,6.85,6.85,6.8,6.8,6.75,6.7,6.7,6.65,6.65, 6.75,6.9,7.1,7.25,7.3,7.4,7.45,7.54,7.2,7.1, 7.1,7.15,7.2,7.25,7.3,7.35,7.45,7.6,7.8,7.95, 8.1,8.25,8.4,8.5,8.45,8.5,8.35,8.2,8.0,7.8, 7.6,7.3,7.0,6.7,6.3,5.9,5.5,5.0,4.6,4.2, 3.8,3.4,3.0,2.6,2.2,1.7,1.2,0.6,0.0,-0.8, -1.5,-1.8,-1.8,-1.8];
const taAtl8 = [5.7,5.6,5.5,5.45,5.4,5.3,5.25,5.2,5.1,5.05, 5.0,4.95,4.9,4.85,4.8,4.7,4.6,4.5,4.4,4.3, 4.2,4.1,4.0,3.9,3.85,3.9,4.0,4.1,4.3,4.5, 4.7,4.9,5.1,5.3,5.5,5.7,5.9,6.1,6.3,6.5, 6.6,6.7,6.8,6.9,7.0,7.0,6.9,6.8,6.7,6.5, 6.3,5.8,5.0,3.0,2.0,1.5,0.8,-0.5,-1.3,-1.5, -0.8,-1.6,-1.8,-1.8,-1.8,-1.8,-1.8,-1.8,-1.8,-1.8, -1.8,-1.8,-1.8,-1.8];
const taAtl9 = [7.35,7.3,7.25,7.2,7.15,7.1,7.0,6.95,6.9,6.85, 6.8,6.8,6.75,6.75,6.7,6.7,6.65,6.65,6.6,6.6, 6.7,6.85,7.0,7.1,7.2,7.25,7.3,7.35,7.1,7.0, 7.0,7.05,7.1,7.15,7.2,7.25,7.3,7.45,7.6,7.75, 7.9,8.05,8.2,8.3,8.35,8.3,8.2,8.05,7.9,7.7, 7.5,7.3,7.05,6.8,6.5,6.15,5.8,5.5,5.2,4.9, 4.6,4.3,4.0,3.7,3.4,3.0,2.6,2.2,1.8,1.0, 0.0,-1.3,-1.8,-1.8];
const taAtl10 = [7.2,7.15,7.1,7.05,7.05,7.0,6.9,6.85,6.8,6.78, 6.72,6.7,6.68,6.65,6.62,6.6,6.58,6.55,6.52,6.52, 6.6,6.72,6.85,6.95,7.05,7.1,7.15,7.2,7.0,6.92, 6.92,6.95,7.0,7.05,7.1,7.15,7.2,7.35,7.5,7.65, 7.75,7.9,8.0,8.1,8.15,8.1,8.0,7.85,7.7,7.5, 7.3,7.1,6.85,6.6,6.3,5.95,5.6,5.3,5.0,4.7, 4.4,4.0,3.6,3.3,3.0,2.6,2.2,1.8,1.4,0.6, -0.3,-1.5,-1.8,-1.8];
const taAtl11 = [7.05,7.0,6.95,6.9,6.9,6.85,6.8,6.75,6.72,6.7, 6.65,6.62,6.6,6.58,6.55,6.52,6.5,6.48,6.45,6.45, 6.5,6.6,6.7,6.8,6.85,6.85,6.85,6.9,6.8,6.8, 6.82,6.85,6.9,6.9,6.95,7.0,7.05,7.2,7.3,7.45, 7.55,7.65,7.75,7.85,7.9,7.85,7.75,7.6,7.45,7.25, 7.05,6.85,6.6,6.35,6.05,5.7,5.4,5.0,4.7,4.4, 4.0,3.6,3.2,2.8,2.4,2.0,1.6,1.2,0.8,0.3, -0.5,-1.5,-1.8,-1.8];
const taAtl12 = [7.5,7.35,7.4,7.25,7.3,7.15,7.1,6.98,7.0,6.9, 6.9,6.85,6.82,6.8,6.78,6.75,6.72,6.7,6.68,6.7, 6.8,6.95,7.15,7.2,7.35,7.3,7.5,7.45,7.25,7.15, 7.15,7.2,7.25,7.3,7.35,7.4,7.45,7.6,7.75,7.9, 8.05,8.2,8.3,8.4,8.45,8.4,8.35,8.25,8.1,7.95, 7.75,7.5,7.25,7.0,6.7,6.35,6.0,5.7,5.5,5.2, 4.9,4.6,4.3,4.0,3.7,3.3,2.9,2.5,2.1,1.5, 0.5,-1.0,-1.7,-1.7];
const taAtl13 = [7.12,7.08,7.0,6.98,6.95,6.92,6.85,6.8,6.76,6.74, 6.7,6.66,6.64,6.62,6.58,6.56,6.54,6.52,6.48,6.48, 6.55,6.66,6.78,6.88,6.95,6.98,7.0,7.05,6.9,6.86, 6.87,6.9,6.95,6.98,7.02,7.08,7.12,7.28,7.4,7.55, 7.65,7.78,7.88,7.98,8.02,7.98,7.88,7.72,7.58,7.38, 7.18,6.98,6.72,6.48,6.18,5.82,5.5,5.15,4.85,4.55, 4.2,3.8,3.4,3.05,2.7,2.3,1.9,1.5,1.1,0.45, -0.4,-1.5,-1.8,-1.8];
const taArc1 = [-1.8,-1.8,-1.8,-1.8,-1.8,-1.8,-1.8,-1.8,-1.8,-1.8, -1.8,-1.8,-1.8,-1.8,-1.8,-1.8,-1.8,-1.8,-1.8,-1.8, -1.8,-1.8,-1.8,-1.8,-1.8,-1.8,-1.8,-1.8,-1.8,-1.8, -1.8,-1.8,-1.8,-1.8,-1.8,-1.8,-1.8,-1.8,-1.5,-0.3, 0.4,1.2,0.5,1.4,2.0,2.6,1.6,4.1,2.4,3.4, 2.5,2.8,3.2,2.6,3.3,2.2,0.5,-1.0,-0.3,1.0, 0.2,-0.8,0.5,-0.5,-1.2,-0.6,-1.5,-1.7,-1.8,-1.8, -1.8,-1.8,-1.8,-1.8];
const taArc2 = [-1.8,-1.8,-1.8,-1.8,-1.8,-1.8,-1.8,-1.8,-1.8,-1.8, -1.8,-1.8,-1.8,-1.8,-1.8,-1.8,-1.8,-1.8,-1.8,-1.8, -1.8,-1.8,-1.8,-1.8,-1.8,-1.8,-1.8,-1.8,-1.8,-1.8, -1.8,-1.8,-1.8,-1.8,-1.8,-1.8,-1.8,-1.8,-1.8,-1.8, -1.4,0.3,0.9,0.7,1.6,1.2,2.4,1.9,3.4,2.0, 3.0,2.5,3.8,3.0,3.5,1.5,1.8,0.6,1.3,-0.2, 0.8,0.0,-1.0,0.3,-0.8,-1.4,-1.0,-1.7,-1.8,-1.8, -1.8,-1.8,-1.8,-1.8];
const taArc3 = [-1.8,-1.8,-1.8,-1.8,-1.8,-1.8,-1.8,-1.8,-1.8,-1.8, -1.8,-1.8,-1.8,-1.8,-1.8,-1.8,-1.8,-1.8,-1.8,-1.8, -1.8,-1.8,-1.8,-1.8,-1.8,-1.8,-1.8,-1.8,-1.8,-1.8, -1.8,-1.8,-1.8,-1.8,-1.8,-1.8,-1.8,-1.8,-1.8,-1.8, -1.8,-1.6,-1.0,-0.2,0.3,0.8,0.6,1.4,1.2,1.8, 2.2,2.0,2.8,4.9,3.6,2.8,1.0,-0.5,-1.5,-1.2, 0.5,-0.4,0.8,-0.2,-1.0,-1.6,-1.8,-1.8,-1.8,-1.8, -1.8,-1.8,-1.8,-1.8];
const taArc4 = [-1.8,-1.8,-1.8,-1.8,-1.8,-1.8,-1.8,-1.8,-1.8,-1.8, -1.8,-1.8,-1.8,-1.8,-1.8,-1.8,-1.8,-1.8,-1.8,-1.8, -1.8,-1.8,-1.8,-1.8,-1.8,-1.8,-1.8,-1.8,-1.8,-1.8, -1.8,-1.8,-1.8,-1.8,-1.8,-1.8,-1.8,-1.8,-1.8,-1.8, -1.8,-1.8,-1.5,-0.8,0.2,0.6,1.2,1.0,1.8,1.6, 2.3,2.9,2.5,3.5,3.8,2.5,1.6,1.0,0.5,1.4, -0.5,0.5,-0.3,0.6,-0.7,-0.2,-1.3,-1.6,-1.8,-1.8, -1.8,-1.8,-1.8,-1.8];
const taArc5 = [-1.8,-1.8,-1.8,-1.8,-1.8,-1.8,-1.8,-1.8,-1.8,-1.8, -1.8,-1.8,-1.8,-1.8,-1.8,-1.8,-1.8,-1.8,-1.8,-1.8, -1.8,-1.8,-1.8,-1.8,-1.8,-1.8,-1.8,-1.8,-1.8,-1.8, -1.8,-1.8,-1.8,-1.8,-1.8,-1.8,-1.8,-1.8,-1.8,-1.8, -1.8,-1.8,-1.7,-1.2,-0.5,0.0,0.5,0.3,1.0,1.4, 1.2,2.0,2.2,2.6,3.0,2.2,-0.8,-1.5,-1.0,0.2, 1.0,-0.2,-1.2,-0.8,-1.5,-1.8,-1.8,-1.8,-1.8,-1.8, -1.8,-1.8,-1.8,-1.8];
const taArc6 = [-1.8,-1.8,-1.8,-1.8,-1.8,-1.8,-1.8,-1.8,-1.8,-1.8, -1.8,-1.8,-1.8,-1.8,-1.8,-1.8,-1.8,-1.8,-1.8,-1.8, -1.8,-1.8,-1.8,-1.8,-1.8,-1.8,-1.8,-1.8,-1.8,-1.8, -1.8,-1.8,-1.8,-1.8,-1.8,-1.8,-1.8,-1.8,-1.8,-1.0, 0.2,1.0,1.1,0.7,1.5,2.3,2.0,3.0,2.2,3.2, 2.4,3.0,2.6,3.1,2.4,1.2,0.2,0.8,-0.5,0.4, -0.6,1.2,-0.5,-1.2,-0.3,-1.0,-1.7,-1.8,-1.8,-1.8, -1.8,-1.8,-1.8,-1.8];
const taArc7 = [-1.8,-1.8,-1.8,-1.8,-1.8,-1.8,-1.8,-1.8,-1.8,-1.8, -1.8,-1.8,-1.8,-1.8,-1.8,-1.8,-1.8,-1.8,-1.8,-1.8, -1.8,-1.8,-1.8,-1.8,-1.8,-1.8,-1.8,-1.8,-1.8,-1.8, -1.8,-1.8,-1.8,-1.8,-1.8,-1.8,-1.8,-1.8,-1.8,-1.8, -1.8,-1.8,-1.8,-1.8,-1.8,-1.8,-1.8,-1.8,-1.8,-1.8, -1.8,-1.8,-1.8,-1.8,-1.8,-1.8,-1.8,-1.8,-1.8,-1.8, -1.8,-1.8,-1.8,-1.8,-1.8,-1.8,-1.8,-1.8,-1.8,-1.8, -1.8,-1.8,-1.8,-1.8];

// ---------------- drawing ----------------
const ORANGE = '#D95319', BLUE = '#0072BD', INK = '#262626';
const FONT = '"Liberation Sans", Arial, Helvetica, sans-serif';
Chart.defaults.font.family = FONT;
Chart.defaults.color = INK;

function pts(days, vals) { return days.map((d, i) => ({x: d, y: vals[i]})); }
function line(days, vals, color, label, order, width, extra) {
  return Object.assign({label, data: pts(days, vals), borderColor: color, backgroundColor: color,
    borderWidth: width, pointRadius: 0, pointHoverRadius: 0, tension: 0, fill: false, order}, extra || {});
}
function buildDatasets(days, envelopes, atl, arc, width) {
  const ds = [];
  envelopes.forEach(([up, lo]) => {
    ds.push(line(days, up, ORANGE, seriesNames[0], 3, 1, {fill: '+1'}));
    ds.push(line(days, lo, ORANGE, seriesNames[0], 3, 1));
  });
  atl.forEach(v => ds.push(line(days, v, ORANGE, seriesNames[0], 2, width)));
  arc.forEach(v => ds.push(line(days, v, BLUE, seriesNames[1], 1, width)));
  return ds;
}

const decor = {
  id: 'decor',
  beforeDatasetsDraw(chart, args, o) {
    const {ctx, chartArea: a} = chart; const x = chart.scales.x;
    const x0 = x.getPixelForValue(o.band[0]), x1 = x.getPixelForValue(o.band[1]);
    ctx.save(); ctx.fillStyle = '#e3e3e3'; ctx.fillRect(x0, a.top, x1 - x0, a.bottom - a.top); ctx.restore();
  },
  afterDatasetsDraw(chart, args, o) {
    const {ctx, chartArea: a} = chart; const x = chart.scales.x, y = chart.scales.y;
    ctx.save();
    const L = Math.round(a.left) + 0.5, R = Math.round(a.right) - 0.5, T = Math.round(a.top) + 0.5, B = Math.round(a.bottom) - 0.5;
    ctx.strokeStyle = '#4d4d4d'; ctx.lineWidth = 1;
    ctx.beginPath();
    ctx.rect(L, T, R - L, B - T);
    monthStarts.forEach(d => { const px = Math.round(x.getPixelForValue(d)) + 0.5;
      ctx.moveTo(px, B); ctx.lineTo(px, B - 5); ctx.moveTo(px, T); ctx.lineTo(px, T + 5); });
    monthMids.forEach(d => { const px = Math.round(x.getPixelForValue(d)) + 0.5; ctx.moveTo(px, B); ctx.lineTo(px, B - 3); });
    o.yTicks.forEach(v => { const py = Math.round(y.getPixelForValue(v)) + 0.5; ctx.moveTo(L, py); ctx.lineTo(L + 5, py); });
    ctx.stroke();
    ctx.fillStyle = '#000'; ctx.font = 'bold 22px ' + FONT; ctx.textBaseline = 'alphabetic'; ctx.textAlign = 'left';
    ctx.fillText(o.title, a.left + 13, a.top + 33);
    ctx.restore();
  }
};

function makePanel(canvasId, p) {
  return new Chart(document.getElementById(canvasId), {
    type: 'line',
    data: {datasets: p.datasets},
    options: {
      responsive: false, animation: false, events: [],
      layout: {padding: {left: 0, right: p.padRight, top: 0, bottom: 0}},
      plugins: {legend: {display: false}, tooltip: {enabled: false},
                decor: {band: p.band, title: p.title, yTicks: p.yTicks}},
      scales: {
        x: {type: 'linear', position: 'bottom', min: 0, max: 365,
            afterBuildTicks: s => { s.ticks = monthStarts.map(v => ({value: v})); },
            afterFit: s => { s.height = p.bottomH; },
            ticks: {autoSkip: false, maxRotation: 0, minRotation: 0, padding: 6, color: INK,
                    font: {family: FONT, size: 17, lineHeight: 1.45},
                    callback: (v, i) => i === monthNames.length - 1 ? [monthNames[i], yearLabel] : monthNames[i]},
            grid: {display: false, drawTicks: false}, border: {display: false}},
        xTop: {type: 'linear', position: 'top', min: 0, max: 365,
            afterBuildTicks: s => { s.ticks = monthStarts.map(v => ({value: v})); },
            afterFit: s => { s.height = 50; },
            ticks: {autoSkip: false, maxRotation: 0, minRotation: 0, padding: 5, color: INK,
                    font: {family: FONT, size: 15}, callback: (v, i) => p.topLabels[i]},
            title: {display: true, text: topAxisTitle, color: INK, font: {family: FONT, size: 16}, padding: {top: 7, bottom: 0}},
            grid: {display: false, drawTicks: false}, border: {display: false}},
        y: {type: 'linear', position: 'left', min: p.yMin, max: p.yMax,
            afterBuildTicks: s => { s.ticks = p.yTicks.map(v => ({value: v})); },
            afterFit: s => { s.width = p.yWidth; },
            ticks: {padding: 7, color: INK, font: {family: FONT, size: 16}, callback: v => String(v)},
            title: {display: true, text: p.yTitle, color: INK, font: {family: FONT, size: p.yTitleSize}, padding: {top: p.yTitlePad, bottom: 0}},
            grid: {display: false, drawTicks: false}, border: {display: false}}
      }
    },
    plugins: [decor]
  });
}

makePanel('parSummer', {
  datasets: buildDatasets(parSummerDays, [], [psAtl1, psAtl2, psAtl3], [psArc1, psArc2, psArc3, psArc4], 1.4),
  yMin: 0, yMax: 5, yTicks: parTicks, yTitle: parAxisTitle, yTitlePad: 15, yTitleSize: 18,
  topLabels: summerDistLabels, band: summerBand, title: panelTitles[0], yWidth: 59, padRight: 10, bottomH: 63});
makePanel('tempSummer', {
  datasets: buildDatasets(tempSummerDays, [[tsAtlUpper, tsAtlLower]],
    [tsAtl1, tsAtl2, tsAtl3, tsAtl4, tsAtl5, tsAtl6, tsAtl7, tsAtl8, tsAtl9, tsAtl10, tsAtl11, tsAtl12, tsAtl13],
    [tsArc1, tsArc2, tsArc3, tsArc4, tsArc5, tsArc6, tsArc7, tsArc8], 1),
  yMin: -2, yMax: 8.5, yTicks: tempTicks, yTitle: tempAxisTitle, yTitlePad: 7, yTitleSize: 17,
  topLabels: summerDistLabels, band: summerBand, title: panelTitles[1], yWidth: 57, padRight: 12, bottomH: 63});
makePanel('parAutumn', {
  datasets: buildDatasets(parAutumnDays, [[paAtlUpper, paAtlLower]],
    [paAtl1, paAtl2, paAtl3, paAtl4, paAtl5, paAtl6, paAtl7, paAtl8, paAtl9, paAtl10], [paArc1, paArc2, paArc3, paArc4], 1),
  yMin: 0, yMax: 5, yTicks: parTicks, yTitle: parAxisTitle, yTitlePad: 15, yTitleSize: 18,
  topLabels: autumnDistLabels, band: autumnBand, title: panelTitles[2], yWidth: 59, padRight: 10, bottomH: 60});
makePanel('tempAutumn', {
  datasets: buildDatasets(tempAutumnDays, [[taAtlMainUpper, taAtlMainLower]],
    [taAtl1, taAtl2, taAtl3, taAtl4, taAtl5, taAtl6, taAtl7, taAtl8, taAtl9, taAtl10, taAtl11, taAtl12, taAtl13],
    [taArc1, taArc2, taArc3, taArc4, taArc5, taArc6, taArc7], 1),
  yMin: -2, yMax: 8.5, yTicks: tempTicks, yTitle: tempAxisTitle, yTitlePad: 7, yTitleSize: 17,
  topLabels: autumnDistLabels, band: autumnBand, title: panelTitles[3], yWidth: 57, padRight: 12, bottomH: 60});

// legend: line samples drawn on small canvases, labels as real text
const lg = document.getElementById('legend');
[[ORANGE, 6, 64], [BLUE, 133, 191]].forEach(([c, sx, tx], i) => {
  const cv = document.createElement('canvas');
  cv.width = 52; cv.height = 5; cv.style.left = sx + 'px';
  lg.appendChild(cv);
  const g = cv.getContext('2d');
  g.strokeStyle = c; g.lineWidth = 1.5;
  g.beginPath(); g.moveTo(0, 2.5); g.lineTo(52, 2.5); g.stroke();
  const t = document.createElement('span'); t.className = 'tx'; t.style.left = tx + 'px'; t.textContent = seriesNames[i]; lg.appendChild(t);
});
</script>
</body>
</html>
